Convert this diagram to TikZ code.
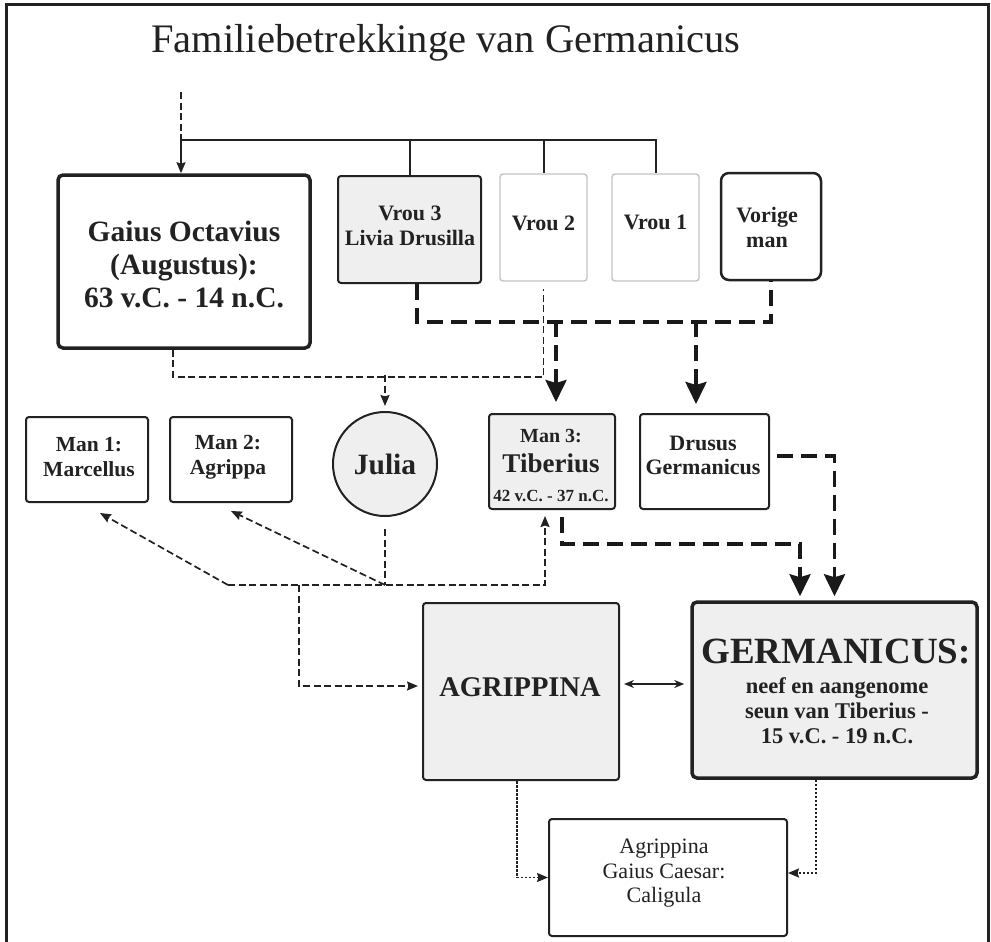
\documentclass[tikz,border=0pt]{standalone}
\usepackage{fontspec}
\setmainfont{Liberation Serif}
\usetikzlibrary{arrows.meta}
\definecolor{ink}{HTML}{222222}
\definecolor{boxfill}{HTML}{EFEFEF}
\definecolor{lightedge}{HTML}{C4C4C4}
\begin{document}
\begin{tikzpicture}[x=1pt,y=-1pt,
  box/.style={rectangle, draw=ink, line width=2pt, rounded corners=3pt, inner sep=0pt, fill=white},
  lbl/.style={align=center, text=ink, inner sep=0pt},
  solidc/.style={draw=ink, line width=2pt},
  thindash/.style={draw=ink, line width=1.7pt, dash pattern=on 7pt off 3.5pt},
  thickdash/.style={draw=black!90, line width=3.6pt, dash pattern=on 16pt off 8pt},
  dotconn/.style={draw=ink, line width=1.8pt, dash pattern=on 2.5pt off 1.5pt},
  bigtip/.style={-{Stealth[length=22pt,width=21pt,inset=3pt]}},
  smalltip/.style={-{Stealth[length=11pt,width=9pt,inset=1.5pt]}}
]
\useasboundingbox (0,0) rectangle (991,942);
\draw[line width=3pt, draw=ink] (6,942) -- (6,5) -- (988,5) -- (988,942);

\node[lbl, anchor=base, font=\fontsize{40.5pt}{48pt}\selectfont] (title) at (446,53) {Familiebetrekkinge van Germanicus};

% boxes
\node[box, line width=3.5pt, rounded corners=5pt, minimum width=252pt, minimum height=173pt] (aug) at (184,261.5) {};
\node[box, fill=boxfill, minimum width=143pt, minimum height=107pt] (livia) at (409.5,229.5) {};
\node[box, draw=lightedge, line width=1.4pt, minimum width=87pt, minimum height=107pt] (vrou2) at (543.5,227.5) {};
\node[box, draw=lightedge, line width=1.4pt, minimum width=87pt, minimum height=107pt] (vrou1) at (655.5,227.5) {};
\node[box, line width=2.5pt, rounded corners=8pt, minimum width=100pt, minimum height=107pt] (vorige) at (771,226.5) {};
\node[box, minimum width=122pt, minimum height=85pt] (man1) at (87,459.5) {};
\node[box, minimum width=122pt, minimum height=85pt] (man2) at (231,459.5) {};
\node[circle, draw=ink, line width=2pt, fill=boxfill, minimum size=104pt, inner sep=0pt] (julia) at (385,464) {};
\node[box, fill=boxfill, minimum width=126pt, minimum height=95pt] (tib) at (552,461.5) {};
\node[box, minimum width=129pt, minimum height=95pt] (drusus) at (704.5,461.5) {};
\node[box, fill=boxfill, minimum width=196pt, minimum height=177pt] (agr) at (521,691.5) {};
\node[box, fill=boxfill, line width=3.5pt, rounded corners=5pt, minimum width=285pt, minimum height=176pt] (germ) at (834.5,690) {};
\node[box, minimum width=238pt, minimum height=117pt] (child) at (668,877.5) {};

% texts
\node[lbl, font=\bfseries\fontsize{29.5pt}{33pt}\selectfont] (augT) at (184,264) {Gaius Octavius\\(Augustus):\\63 v.C. - 14 n.C.};
\node[lbl, font=\bfseries\fontsize{22pt}{25pt}\selectfont] (livT) at (410,226) {Vrou 3\\Livia Drusilla};
\node[lbl, font=\bfseries\fontsize{22pt}{25pt}\selectfont] (v2T) at (543.5,223) {Vrou 2};
\node[lbl, font=\bfseries\fontsize{22pt}{25pt}\selectfont] (v1T) at (655.5,222) {Vrou 1};
\node[lbl, font=\bfseries\fontsize{22pt}{25pt}\selectfont] (vorT) at (767,227) {Vorige\\man};
\node[lbl, font=\bfseries\fontsize{21.5pt}{25pt}\selectfont] (man1T) at (89,457) {Man 1:\\Marcellus};
\node[lbl, font=\bfseries\fontsize{21.5pt}{25pt}\selectfont] (man2T) at (228,457) {Man 2:\\Agrippa};
\node[lbl, font=\bfseries\fontsize{29.5pt}{33pt}\selectfont] (juliaT) at (385,464) {Julia};
\node[lbl, font=\bfseries\fontsize{20pt}{24pt}\selectfont] (tibT1) at (551,436) {Man 3:};
\node[lbl, font=\bfseries\fontsize{27pt}{30pt}\selectfont] (tibT2) at (551,463) {Tiberius};
\node[lbl, font=\bfseries\fontsize{17pt}{20pt}\selectfont] (tibT3) at (551,496) {42 v.C. - 37 n.C.};
\node[lbl, font=\bfseries\fontsize{22pt}{24pt}\selectfont] (drT) at (703,455) {Drusus\\Germanicus};
\node[lbl, font=\bfseries\fontsize{28.5pt}{33pt}\selectfont] (agrT) at (520,687) {AGRIPPINA};
\node[lbl, font=\bfseries\fontsize{37pt}{40pt}\selectfont] (germT1) at (836,652) {GERMANICUS:};
\node[lbl, font=\bfseries\fontsize{22.5pt}{25pt}\selectfont] (germT2) at (837,711) {neef en aangenome\\seun van Tiberius -\\15 v.C. - 19 n.C.};
\node[lbl, font=\fontsize{22pt}{24.5pt}\selectfont] (childT) at (664,873.5) {Agrippina\\Gaius Caesar:\\Caligula};

% top structure
\coordinate (topin) at (181,92);
\coordinate (barL) at (181,140);
\draw[thindash] (topin) -- (barL);
\draw[solidc] (barL) -- (vrou1.north |- barL) -- (vrou1.north);
\draw[solidc, smalltip] (barL) -- (aug.north -| barL);
\draw[solidc] (livia.north |- barL) -- (livia.north);
\draw[solidc] (vrou2.north |- barL) -- (vrou2.north);

% thick dashed: Livia / Vorige man -> Tiberius, Drusus
\draw[thickdash] ([xshift=7.5pt]livia.south) -- ++(0,38) -| (vorige.south);
\coordinate (ta) at (556,321);
\coordinate (tb) at (696,321);
\draw[thickdash, bigtip, shorten >=11pt] (ta) -- (tib.north -| ta);
\draw[thickdash, bigtip, shorten >=9pt] (tb) -- (drusus.north -| tb);

% thin dashed: Augustus / Vrou 2 -> Julia
\draw[thindash] ([xshift=-11pt]aug.south) -- ++(0,27) -| ([yshift=-7pt]vrou2.south);
\coordinate (jb) at (385,375);
\draw[thindash, smalltip, shorten >=5pt] (jb) -- (julia.north);

% Julia's marriages
\coordinate (hub1) at (228,585);
\coordinate (hub2) at (385,585);
\coordinate (hub3) at (545,585);
\coordinate (hub4) at (299,585);
\draw[thindash] ([yshift=-12pt]julia.south) -- (hub2);
\draw[thindash, smalltip, shorten >=6pt] (hub1) -- (hub3) -- (tib.south -| hub3);
\draw[thindash, smalltip] (hub1) -- ([xshift=13pt,yshift=-10pt]man1.south);
\draw[thindash, smalltip] (hub2) -- ([yshift=-8pt]man2.south);
\draw[thindash, smalltip, shorten >=4pt] (hub4) |- ([yshift=5.5pt]agr.west);

% thick dashed into Germanicus
\draw[thickdash, bigtip] ([xshift=10pt,yshift=-7pt]tib.south) -- ++(0,27) -| ([xshift=-34.5pt,yshift=4pt]germ.north);
\draw[thickdash, bigtip] ([xshift=7pt,yshift=5.5pt]drusus.east) -| ([yshift=4pt]germ.north);

% marriage
\draw[draw=ink, line width=1.8pt, {Stealth[length=10pt,width=8pt]}-{Stealth[length=10pt,width=8pt]}] ([xshift=4pt,yshift=7.5pt]agr.east) -- ([xshift=-6pt,yshift=6pt]germ.west);

% children
\draw[dotconn, smalltip] ([xshift=-4pt]agr.south) |- (child.west);
\draw[dotconn, smalltip] ([xshift=-18.5pt]germ.south) |- ([yshift=4.5pt]child.east);
\end{tikzpicture}
\end{document}
